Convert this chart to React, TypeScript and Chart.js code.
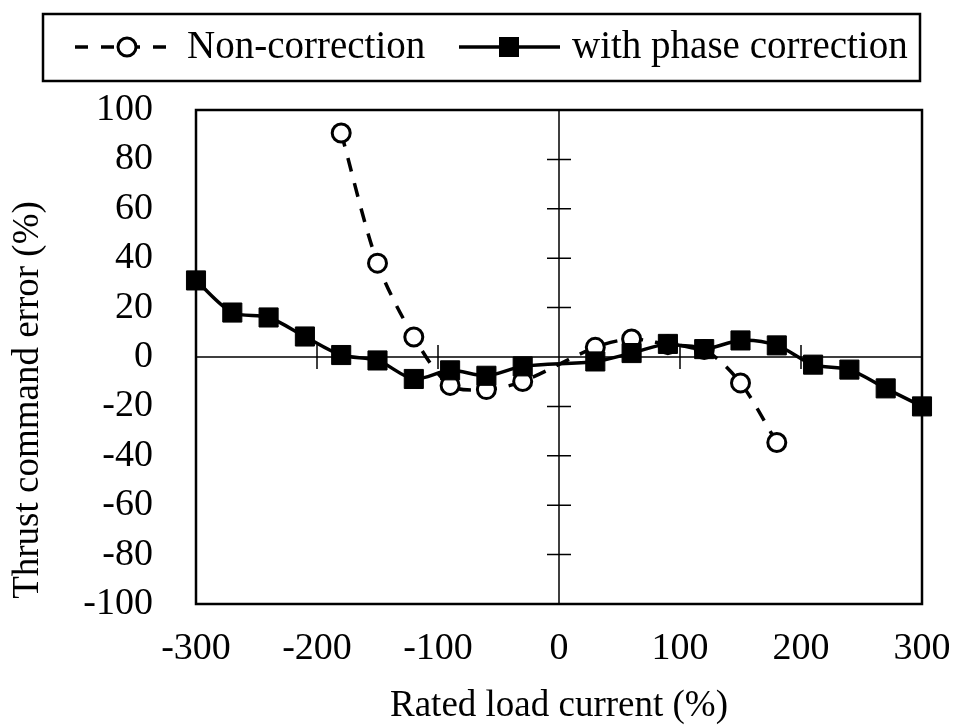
import { useEffect, useRef } from "react";
import { Chart, registerables } from "chart.js";

Chart.register(...registerables);

// Rated load current (%) at each measured point; no measurement at 0 %.
const phaseLoad = [-300, -270, -240, -210, -180, -150, -120, -90, -60, -30, 30, 60, 90, 120, 150, 180, 210, 240, 270, 300];
const phaseError = [31, 18, 16, 8.3, 0.8, -1.4, -8.9, -5.4, -7.6, -3.8, -1.8, 1.6, 5.3, 3.2, 6.7, 4.7, -3.1, -5.1, -12.7, -20];

const plainLoad = [-180, -150, -120, -90, -60, -30, 30, 60, 90, 120, 150, 180];
const plainError = [90.7, 38, 8.1, -11.5, -13.2, -9.9, 3.9, 7.3, 5, 3, -10.5, -34.6];

const xTicks = [-300, -200, -100, 0, 100, 200, 300];
const yTicks = [-100, -80, -60, -40, -20, 0, 20, 40, 60, 80, 100];

const seriesNames = ["Non-correction", "with phase correction"];
const xTitle = "Rated load current (%)";
const yTitle = "Thrust command error (%)";

const FONT = "'Times New Roman', 'Liberation Serif', serif";
const TICK_SIZE = 38;
const TITLE_SIZE = 37;
const LEGEND_SIZE = 39;

// Plot frame, zero cross-hairs with their centred tick marks, legend box and y title.
const decorations = {
  id: "decorations",
  beforeDatasetsDraw(chart: any) {
    const { ctx, chartArea: a, scales } = chart;
    const x = scales.x;
    const y = scales.y;
    const x0 = x.getPixelForValue(0);
    const y0 = y.getPixelForValue(0);
    ctx.save();
    ctx.strokeStyle = "#000";
    ctx.setLineDash([]);

    // zero lines
    ctx.lineWidth = 1.5;
    ctx.beginPath();
    ctx.moveTo(x0, a.top);
    ctx.lineTo(x0, a.bottom);
    ctx.moveTo(a.left, y0);
    ctx.lineTo(a.right, y0);
    // ticks across the vertical zero line
    for (const t of y.ticks) {
      if (t.value === 0) continue;
      const py = y.getPixelForValue(t.value);
      ctx.moveTo(x0 - 12, py);
      ctx.lineTo(x0 + 12, py);
    }
    // ticks across the horizontal zero line
    for (const t of x.ticks) {
      if (t.value === 0) continue;
      const px = x.getPixelForValue(t.value);
      ctx.moveTo(px, y0 - 12);
      ctx.lineTo(px, y0 + 12);
    }
    ctx.stroke();

    // frame
    ctx.lineWidth = 2.5;
    ctx.strokeRect(a.left, a.top, a.right - a.left, a.bottom - a.top);
    ctx.restore();
  },
  afterDraw(chart: any) {
    const { ctx } = chart;
    const ds = chart.data.datasets;
    ctx.save();
    ctx.fillStyle = "#000";
    ctx.strokeStyle = "#000";
    ctx.font = `${LEGEND_SIZE}px ${FONT}`;
    ctx.textBaseline = "middle";

    // legend frame
    ctx.lineWidth = 2.5;
    ctx.setLineDash([]);
    ctx.strokeRect(43, 14, 877, 67);

    const ly = 47;
    // dashed sample with open circle
    ctx.lineWidth = 3.5;
    ctx.setLineDash([13, 13]);
    ctx.beginPath();
    ctx.moveTo(75, ly);
    ctx.lineTo(168, ly);
    ctx.stroke();
    ctx.setLineDash([]);
    ctx.lineWidth = 3;
    ctx.beginPath();
    ctx.arc(127, ly, 9, 0, Math.PI * 2);
    ctx.fillStyle = "#fff";
    ctx.fill();
    ctx.stroke();
    ctx.fillStyle = "#000";
    ctx.textAlign = "left";
    ctx.fillText(ds[1].label, 187, ly + 1);

    // solid sample with filled square
    ctx.lineWidth = 3.5;
    ctx.beginPath();
    ctx.moveTo(459, ly);
    ctx.lineTo(560, ly);
    ctx.stroke();
    ctx.fillRect(499, ly - 10, 20, 20);
    ctx.fillText(ds[0].label, 572, ly + 1);

    // y axis title
    ctx.font = `${TITLE_SIZE}px ${FONT}`;
    ctx.translate(28, 400);
    ctx.rotate(-Math.PI / 2);
    ctx.textAlign = "center";
    ctx.fillText(yTitle, 0, 0);
    ctx.restore();
  },
};

export default function App() {
  const canvasRef = useRef<HTMLCanvasElement | null>(null);

  useEffect(() => {
    const canvas = canvasRef.current;
    if (!canvas) return;
    const chart = new Chart(canvas, {
      type: "line",
      data: {
        datasets: [
          {
            label: seriesNames[1],
            data: phaseLoad.map((v, i) => ({ x: v, y: phaseError[i] })),
            borderColor: "#000",
            backgroundColor: "#000",
            borderWidth: 3.5,
            pointStyle: "rect",
            pointRadius: 13.5,
            pointBorderWidth: 1,
            pointBorderColor: "#000",
            pointBackgroundColor: "#000",
            tension: 0.3,
            clip: false,
            order: 1,
          },
          {
            label: seriesNames[0],
            data: plainLoad.map((v, i) => ({ x: v, y: plainError[i] })),
            borderColor: "#000",
            backgroundColor: "#fff",
            borderWidth: 3.5,
            borderDash: [14, 12],
            pointStyle: "circle",
            pointRadius: 9,
            pointBorderWidth: 3,
            pointBorderColor: "#000",
            pointBackgroundColor: "#fff",
            tension: 0.3,
            clip: false,
            order: 2,
          },
        ],
      },
      options: {
        animation: false,
        responsive: false,
        devicePixelRatio: 1,
        layout: { padding: { left: 0, right: 33, top: 110, bottom: 0 } },
        plugins: {
          legend: { display: false },
          tooltip: { enabled: false },
        },
        scales: {
          x: {
            type: "linear",
            min: -300,
            max: 300,
            afterBuildTicks: (s: any) => {
              s.ticks = xTicks.map((v) => ({ value: v }));
            },
            afterFit: (s: any) => {
              s.height = 124;
              s.paddingLeft = 0;
              s.paddingRight = 0;
            },
            grid: { display: false, drawTicks: false },
            border: { display: false },
            ticks: {
              padding: 22,
              color: "#000",
              font: { family: FONT, size: TICK_SIZE, lineHeight: 1.2 },
              maxRotation: 0,
              autoSkip: false,
            },
            title: {
              display: true,
              text: xTitle,
              color: "#000",
              font: { family: FONT, size: TITLE_SIZE, lineHeight: 1.2 },
              padding: { top: 0, bottom: 0 },
            },
          },
          y: {
            type: "linear",
            min: -100,
            max: 100,
            afterBuildTicks: (s: any) => {
              s.ticks = yTicks.map((v) => ({ value: v }));
            },
            afterFit: (s: any) => {
              s.width = 196;
              s.paddingTop = 0;
              s.paddingBottom = 0;
            },
            grid: { display: false, drawTicks: false },
            border: { display: false },
            ticks: {
              padding: 43,
              color: "#000",
              font: { family: FONT, size: TICK_SIZE, lineHeight: 1.2 },
              autoSkip: false,
            },
          },
        },
      },
      plugins: [decorations],
    });
    return () => chart.destroy();
  }, []);

  return (
    <div style={{ position: "fixed", left: 0, top: 0, width: 955, height: 728, background: "#fff" }}>
      <canvas ref={canvasRef} width={955} height={728} style={{ width: 955, height: 728, display: "block" }} />
    </div>
  );
}
